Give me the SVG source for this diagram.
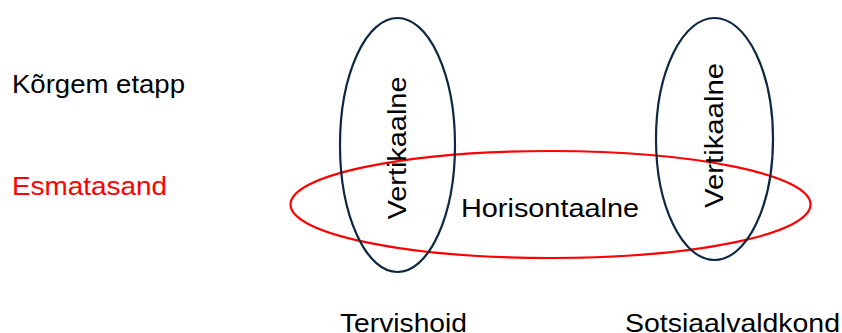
<svg xmlns="http://www.w3.org/2000/svg" width="842" height="333" viewBox="0 0 842 333">
<style>
text{font-family:"Liberation Sans",Arial,sans-serif;font-size:25px;fill:#000}
.red{fill:#ff0000}
.vert{fill:none;stroke:#0e2841;stroke-width:2.2}
.hor{fill:none;stroke:#ff0000;stroke-width:2.2}
</style>
<rect width="842" height="333" fill="#fff"/>
<g id="labels">
<text x="12" y="93" textLength="173" lengthAdjust="spacingAndGlyphs">Kõrgem etapp</text>
<text class="red" x="12" y="195" textLength="155" lengthAdjust="spacingAndGlyphs">Esmatasand</text>
<text x="340" y="332" textLength="127" lengthAdjust="spacingAndGlyphs">Tervishoid</text>
<text x="625" y="332" textLength="215" lengthAdjust="spacingAndGlyphs">Sotsiaalvaldkond</text>
</g>
<g id="horisontaalne">
<ellipse class="hor" cx="550.5" cy="204.5" rx="260" ry="53.5"/>
<text x="550" y="217" text-anchor="middle" textLength="178" lengthAdjust="spacingAndGlyphs">Horisontaalne</text>
</g>
<g id="vertikaalne-tervishoid">
<ellipse class="vert" cx="397.5" cy="145" rx="57.5" ry="127"/>
<text transform="translate(406,148) rotate(-90)" text-anchor="middle" textLength="143" lengthAdjust="spacingAndGlyphs">Vertikaalne</text>
</g>
<g id="vertikaalne-sotsiaal">
<ellipse class="vert" cx="714.5" cy="139" rx="58.5" ry="121"/>
<text transform="translate(723,135.5) rotate(-90)" text-anchor="middle" textLength="145" lengthAdjust="spacingAndGlyphs">Vertikaalne</text>
</g>
<g id="connectors"/>
</svg>
